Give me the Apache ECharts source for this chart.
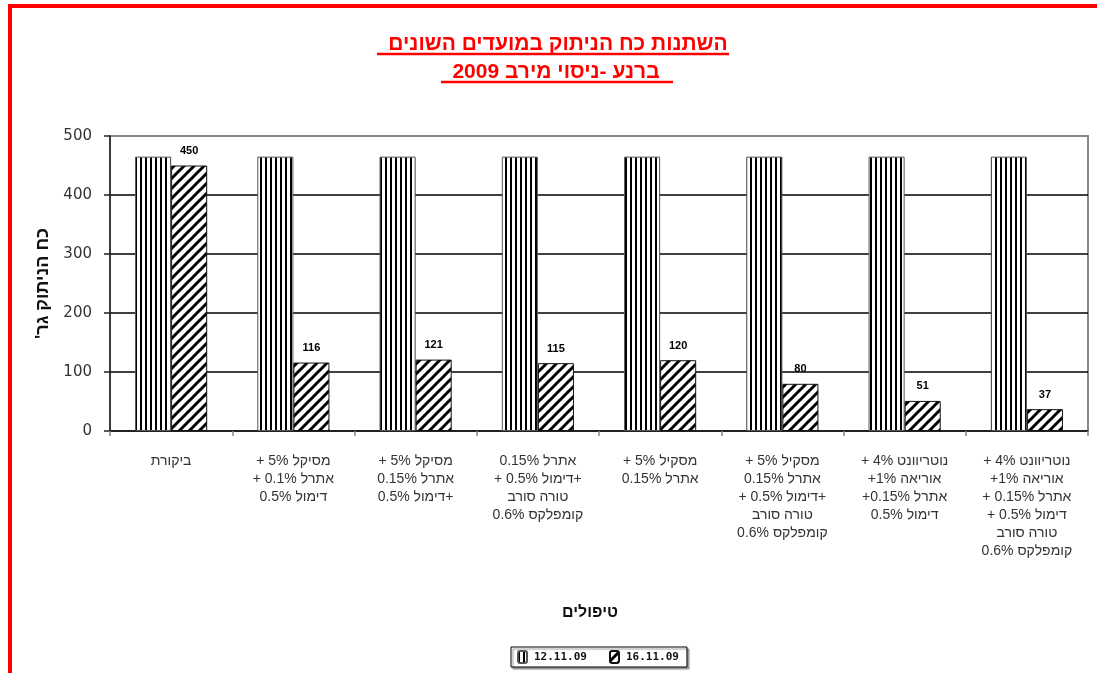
<!DOCTYPE html>
<html>
<head>
<meta charset="utf-8">
<script src="https://cdn.jsdelivr.net/npm/echarts@6/dist/echarts.min.js"></script>
<style>
html,body{margin:0;padding:0;background:#fff;}
#chart{width:1097px;height:673px;direction:rtl;}
</style>
</head>
<body>
<div id="chart"></div>
<script>
// ---- data ----
const categories = [
  "ביקורת",
  "מסיקל 5% +\nאתרל 0.1% +\nדימול 0.5%",
  "מסיקל 5% +\nאתרל 0.15%\n+דימול 0.5%",
  "אתרל 0.15%\n+דימול 0.5% +\nטורה סורב\nקומפלקס 0.6%",
  "מסקיל 5% +\nאתרל 0.15%",
  "מסקיל 5% +\nאתרל 0.15%\n+דימול 0.5% +\nטורה סורב\nקומפלקס 0.6%",
  "נוטריוונט 4% +\nאוריאה 1%+\nאתרל 0.15%+\nדימול 0.5%",
  "נוטריוונט 4% +\nאוריאה 1%+\nאתרל 0.15% +\nדימול 0.5% +\nטורה סורב\nקומפלקס 0.6%"
];
const seriesNames = ["12.11.09", "16.11.09"];
const values1 = [465, 465, 465, 465, 465, 465, 465, 465];
const values2 = [450, 116, 121, 115, 120, 80, 51, 37];
const yTicks = [0, 100, 200, 300, 400, 500];
const titleLine1 = "השתנות כח הניתוק במועדים השונים";
const titleLine2 = "ברנע -ניסוי מירב 2009";
const xAxisName = "טיפולים";
const yAxisName = "כח הניתוק גר'";

// ---- patterns ----
function vStripe() {
  const c = document.createElement('canvas');
  c.width = 5; c.height = 4;
  const x = c.getContext('2d');
  x.fillStyle = '#fff'; x.fillRect(0, 0, 5, 4);
  x.fillStyle = '#000'; x.fillRect(0, 0, 2, 4);
  return c;
}
function dStripe() {
  const s = 10;
  const c = document.createElement('canvas');
  c.width = s; c.height = s;
  const x = c.getContext('2d');
  x.fillStyle = '#fff'; x.fillRect(0, 0, s, s);
  x.strokeStyle = '#000'; x.lineWidth = 3;
  x.beginPath(); x.moveTo(-3, s + 3); x.lineTo(s + 3, -3); x.stroke();
  x.beginPath(); x.moveTo(s - 3, s + 3); x.lineTo(s + 3, s - 3); x.stroke();
  x.beginPath(); x.moveTo(-3, 3); x.lineTo(3, -3); x.stroke();
  return c;
}

const FONT = "'Liberation Sans', Arial, 'DejaVu Sans', sans-serif";
const WIDE = "'DejaVu Sans', 'Liberation Sans', sans-serif";
const chart = echarts.init(document.getElementById('chart'), null, {renderer: 'canvas'});

chart.setOption({
  backgroundColor: '#fff',
  animation: false,
  title: [
    {text: titleLine1, left: 553, top: 29, textAlign: 'center',
     textStyle: {color: '#ff0000', fontSize: 21, fontWeight: 'bold', fontFamily: FONT}},
    {text: titleLine2, left: 551, top: 57, textAlign: 'center',
     textStyle: {color: '#ff0000', fontSize: 21, fontWeight: 'bold', fontFamily: FONT}}
  ],
  graphic: [
    {type: 'rect', shape: {x: 8, y: 4, width: 1089, height: 4}, style: {fill: '#ff0000'}, silent: true},
    {type: 'rect', shape: {x: 8, y: 4, width: 4, height: 669}, style: {fill: '#ff0000'}, silent: true},
    {type: 'line', shape: {x1: 377, y1: 54, x2: 729, y2: 54}, style: {stroke: '#ff0000', lineWidth: 2.5}, silent: true},
    {type: 'line', shape: {x1: 441, y1: 82, x2: 673, y2: 82}, style: {stroke: '#ff0000', lineWidth: 2.5}, silent: true}
  ],
  legend: {
    data: seriesNames,
    left: 511, top: 647,
    orient: 'horizontal',
    itemWidth: 9, itemHeight: 12, itemGap: 22,
    padding: [3, 8, 3, 6],
    borderColor: '#000', borderWidth: 1,
    backgroundColor: '#fff',
    shadowColor: '#999', shadowBlur: 1, shadowOffsetX: 2, shadowOffsetY: 2,
    textStyle: {fontFamily: "'DejaVu Sans Mono', monospace", fontSize: 11, fontWeight: 'bold', color: '#111', padding: [0, 0, 0, 2]}
  },
  grid: {left: 110, right: 9, top: 136, bottom: 242, show: true, borderColor: '#888', borderWidth: 2, backgroundColor: 'transparent'},
  xAxis: {
    type: 'category',
    data: categories,
    name: xAxisName,
    nameLocation: 'middle',
    nameGap: 174,
    nameTextStyle: {fontFamily: FONT, fontSize: 16, fontWeight: 'bold', color: '#111', padding: [0, 18, 0, 0]},
    axisLine: {lineStyle: {color: '#222', width: 1.5}},
    axisTick: {show: true, length: 5, lineStyle: {color: '#888', width: 1.5}},
    axisLabel: {interval: 0, margin: 21, fontFamily: FONT, fontSize: 14, lineHeight: 18, color: '#333'}
  },
  yAxis: {
    type: 'value',
    min: 0, max: 500, interval: 100,
    name: yAxisName,
    nameLocation: 'middle',
    nameGap: 57,
    nameTextStyle: {fontFamily: FONT, fontSize: 18, fontWeight: 'bold', color: '#111'},
    axisLine: {show: true, lineStyle: {color: '#222', width: 1.5}},
    axisTick: {show: true, inside: false, length: 6, lineStyle: {color: '#222', width: 1.5}},
    axisLabel: {margin: 18, fontFamily: WIDE, fontSize: 15, color: '#333',
      formatter: v => yTicks.indexOf(v) >= 0 ? String(v) : ''},
    splitLine: {show: true, lineStyle: {color: ['#000', '#000', '#000', '#000', '#000', '#888'], width: 1.5}}
  },
  series: [
    {
      name: seriesNames[0], type: 'bar', data: values1,
      barGap: '0%', barCategoryGap: '41%',
      itemStyle: {color: {image: vStripe(), repeat: 'repeat'}, borderColor: '#555', borderWidth: 1}
    },
    {
      name: seriesNames[1], type: 'bar', data: values2,
      itemStyle: {color: {image: dStripe(), repeat: 'repeat'}, borderColor: '#111', borderWidth: 1},
      label: {show: true, position: 'top', distance: 9, fontFamily: FONT, fontSize: 11, fontWeight: 'bold', color: '#000'}
    }
  ]
});
</script>
</body>
</html>
